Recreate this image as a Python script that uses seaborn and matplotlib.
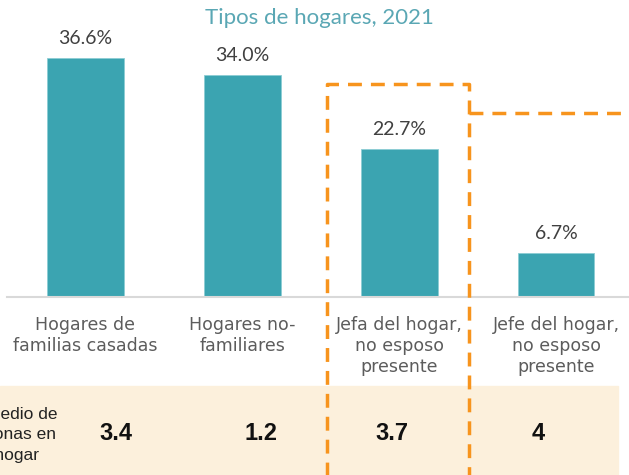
import matplotlib
matplotlib.use("Agg")
import matplotlib.pyplot as plt
from matplotlib.lines import Line2D
from matplotlib.patches import Rectangle
import seaborn as sns
import pandas as pd

# --- datos ---
categorias = ["Hogares de\nfamilias casadas", "Hogares no-\nfamiliares",
              "Jefa del hogar,\nno esposo\npresente", "Jefe del hogar,\nno esposo\npresente"]
porcentajes = [36.6, 34.0, 22.7, 6.7]
personas_hogar = ["3.4", "1.2", "3.7", "4"]
titulo = "Tipos de hogares, 2021"
etiqueta_fila = "Promedio de\npersonas en\nel hogar"

W, H = 629, 475
TEAL = "#3ba4b1"
ORANGE = "#f7941d"
BEIGE = "#fcf0dc"

def fx(px):
    return px / W

def fy(py):
    return (H - py) / H

df = pd.DataFrame({"cat": categorias, "pct": porcentajes})

sns.set_style("white")
fig = plt.figure(figsize=(W / 100, H / 100), dpi=100)
ax = fig.add_axes([fx(7), fy(297), fx(629) - fx(7), 261 / H])

sns.barplot(data=df, x="cat", y="pct", color=TEAL, width=0.49, ax=ax,
            saturation=1, edgecolor="#8ccdd4", linewidth=0.6)
ax.set_xlim(-0.5, 3.465)
ax.set_ylim(0, 40)
ax.bar_label(ax.containers[0], labels=[f"{v:.1f}%" for v in porcentajes],
             padding=8, fontsize=14, color="#404040", family="Lato")

ax.set_xlabel("")
ax.set_ylabel("")
ax.set_yticks([])
for s in ["top", "left", "right"]:
    ax.spines[s].set_visible(False)
ax.spines["bottom"].set_color("#d9d9d9")
ax.spines["bottom"].set_linewidth(1.5)
ax.tick_params(axis="x", length=0, pad=14)
for lbl in ax.get_xticklabels():
    lbl.set_fontsize(12.5)
    lbl.set_color("#5c5c5c")
    lbl.set_family("DejaVu Sans")
    lbl.set_linespacing(1.2)
    lbl.set_va("top")

# titulo
fig.text(fx(319), fy(18), titulo, ha="center", va="center",
         fontsize=16, color="#5aa7b4", family="Lato")

# banda inferior
fig.add_artist(Rectangle((0, fy(475)), fx(618), fy(386) - fy(475),
                         transform=fig.transFigure, color=BEIGE, zorder=-5))
fig.text(fx(8), fy(435), etiqueta_fila, ha="center", va="center",
         fontsize=12.5, color="#222222", family="Liberation Sans", linespacing=1.45,
         multialignment="center")
num_x = [116, 261, 392, 538]
for x, t in zip(num_x, personas_hogar):
    fig.text(fx(x), fy(433), t, ha="center", va="center", fontsize=17,
             fontweight="bold", color="#111111", family="Liberation Sans")

# recuadro discontinuo
dash = dict(color=ORANGE, lw=2.5, linestyle=(0, (4, 2.6)), transform=fig.transFigure)
fig.add_artist(Line2D([fx(327), fx(327), fx(469), fx(469)],
                      [fy(478), fy(84), fy(84), fy(478)], **dash))
fig.add_artist(Line2D([fx(469), fx(632)], [fy(113), fy(113)], **dash))

fig.savefig("out.png", dpi=100)
